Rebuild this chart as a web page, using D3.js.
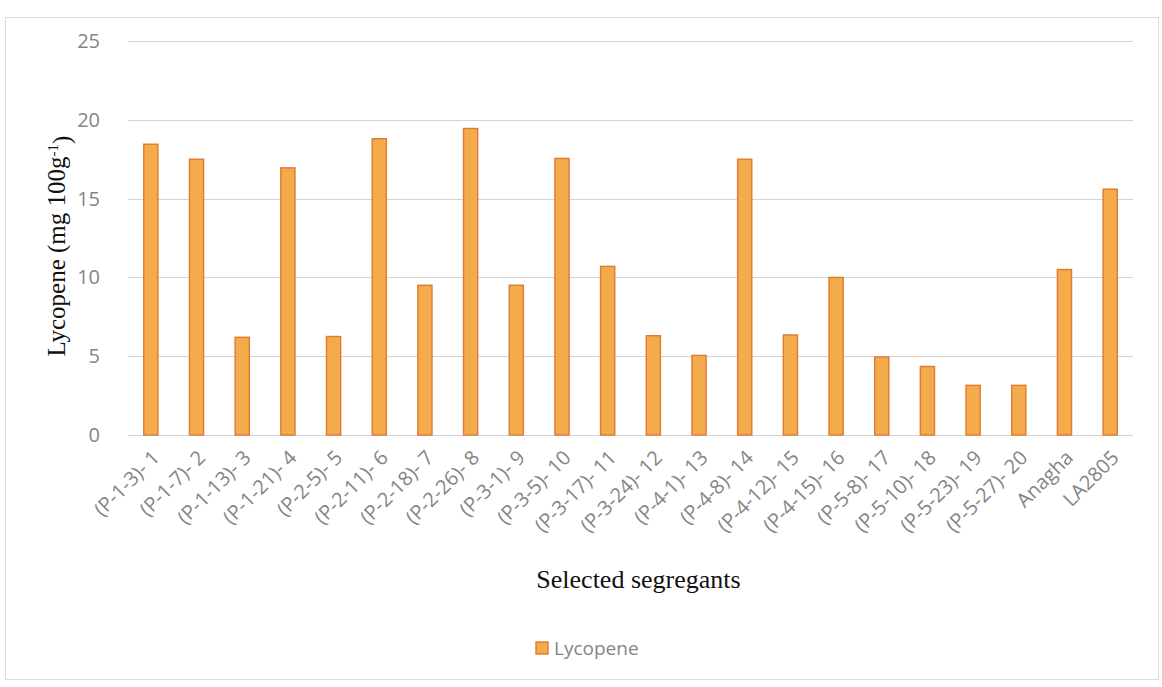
<!DOCTYPE html>
<html>
<head>
<meta charset="utf-8">
<script src="https://cdn.jsdelivr.net/npm/d3@7"></script>
<style>
  html, body { margin: 0; padding: 0; background: #fff; }
  svg { display: block; }
</style>
</head>
<body>
<svg id="chart" width="1162" height="687"></svg>
<script>
// Lycopene content of selected segregants and check varieties
const categories = [
  "(P-1-3)- 1", "(P-1-7)- 2", "(P-1-13)- 3", "(P-1-21)- 4", "(P-2-5)- 5",
  "(P-2-11)- 6", "(P-2-18)- 7", "(P-2-26)- 8", "(P-3-1)- 9", "(P-3-5)- 10",
  "(P-3-17)- 11", "(P-3-24)- 12", "(P-4-1)- 13", "(P-4-8)- 14", "(P-4-12)- 15",
  "(P-4-15)- 16", "(P-5-8)- 17", "(P-5-10)- 18", "(P-5-23)- 19", "(P-5-27)- 20",
  "Anagha", "LA2805"
];
const lycopene = [
  18.45, 17.5, 6.2, 16.95, 6.25,
  18.8, 9.5, 19.45, 9.5, 17.55,
  10.7, 6.3, 5.05, 17.5, 6.35,
  10.0, 4.95, 4.35, 3.15, 3.15,
  10.5, 15.6
];
const yTicks = [0, 5, 10, 15, 20, 25];
const seriesName = "Lycopene";

const svg = d3.select("#chart");
const plot = { left: 128, right: 1133, top: 41, bottom: 435 };

// outer chart frame
svg.append("rect")
  .attr("x", 5.5).attr("y", 17.5)
  .attr("width", 1153).attr("height", 662)
  .attr("fill", "none").attr("stroke", "#dcdcdc").attr("stroke-width", 1);

const x = d3.scaleBand()
  .domain(categories)
  .range([plot.left, plot.right])
  .paddingInner(0.69)
  .paddingOuter(0.345);

const y = d3.scaleLinear()
  .domain([0, 25])
  .range([plot.bottom, plot.top]);

// horizontal gridlines
svg.append("g")
  .selectAll("line")
  .data(yTicks)
  .join("line")
  .attr("x1", plot.left).attr("x2", plot.right)
  .attr("y1", d => Math.round(y(d)) + 0.5)
  .attr("y2", d => Math.round(y(d)) + 0.5)
  .attr("stroke", "#d4d4d4")
  .attr("stroke-width", 1.2);

// y axis tick labels
const yAxis = d3.axisLeft(y).tickValues(yTicks).tickSize(0).tickPadding(28);
const gy = svg.append("g")
  .attr("transform", `translate(${plot.left},0)`)
  .call(yAxis);
gy.select(".domain").remove();
gy.selectAll("text")
  .attr("fill", "#858585")
  .style("font-family", "'Open Sans', sans-serif")
  .style("font-size", "20px");

// bars
svg.append("g")
  .selectAll("rect")
  .data(lycopene)
  .join("rect")
  .attr("x", (d, i) => x(categories[i]))
  .attr("y", d => y(d))
  .attr("width", x.bandwidth())
  .attr("height", d => y(0) - y(d))
  .attr("fill", "#f3ab4b")
  .attr("stroke", "#e07a34")
  .attr("stroke-width", 1.4);

// x axis category labels, rotated
const xAxis = d3.axisBottom(x).tickSize(0).tickPadding(0);
const gx = svg.append("g")
  .attr("transform", `translate(0,${plot.bottom})`)
  .call(xAxis);
gx.select(".domain").remove();
gx.selectAll("text")
  .attr("fill", "#858585")
  .style("font-family", "'Open Sans', sans-serif")
  .style("font-size", "20px")
  .attr("text-anchor", "end")
  .attr("dy", "0")
  .attr("y", 0)
  .attr("transform", "translate(10,24) rotate(-45)");

// axis titles
svg.append("text")
  .attr("transform", `translate(65,${(plot.top + plot.bottom) / 2 + 8}) rotate(-90)`)
  .attr("text-anchor", "middle")
  .style("font-family", "'Liberation Serif', 'Times New Roman', serif")
  .style("font-size", "25px")
  .attr("fill", "#111")
  .call(t => {
    t.append("tspan").text("Lycopene (mg 100g");
    t.append("tspan").attr("dy", "-0.45em").style("font-size", "15px").text("-1");
    t.append("tspan").attr("dy", "0.45em").text(")");
  });

svg.append("text")
  .attr("x", (plot.left + plot.right) / 2 + 8)
  .attr("y", 588)
  .attr("text-anchor", "middle")
  .style("font-family", "'Liberation Serif', 'Times New Roman', serif")
  .style("font-size", "26px")
  .attr("fill", "#111")
  .text("Selected segregants");

// legend
const lg = svg.append("g").attr("transform", "translate(536,642)");
lg.append("rect")
  .attr("width", 12).attr("height", 12)
  .attr("fill", "#f3ab4b").attr("stroke", "#e07a34").attr("stroke-width", 1.4);
lg.append("text")
  .attr("x", 18).attr("y", 13)
  .attr("fill", "#858585")
  .style("font-family", "'Open Sans', sans-serif")
  .style("font-size", "19px")
  .text(seriesName);
</script>
</body>
</html>
